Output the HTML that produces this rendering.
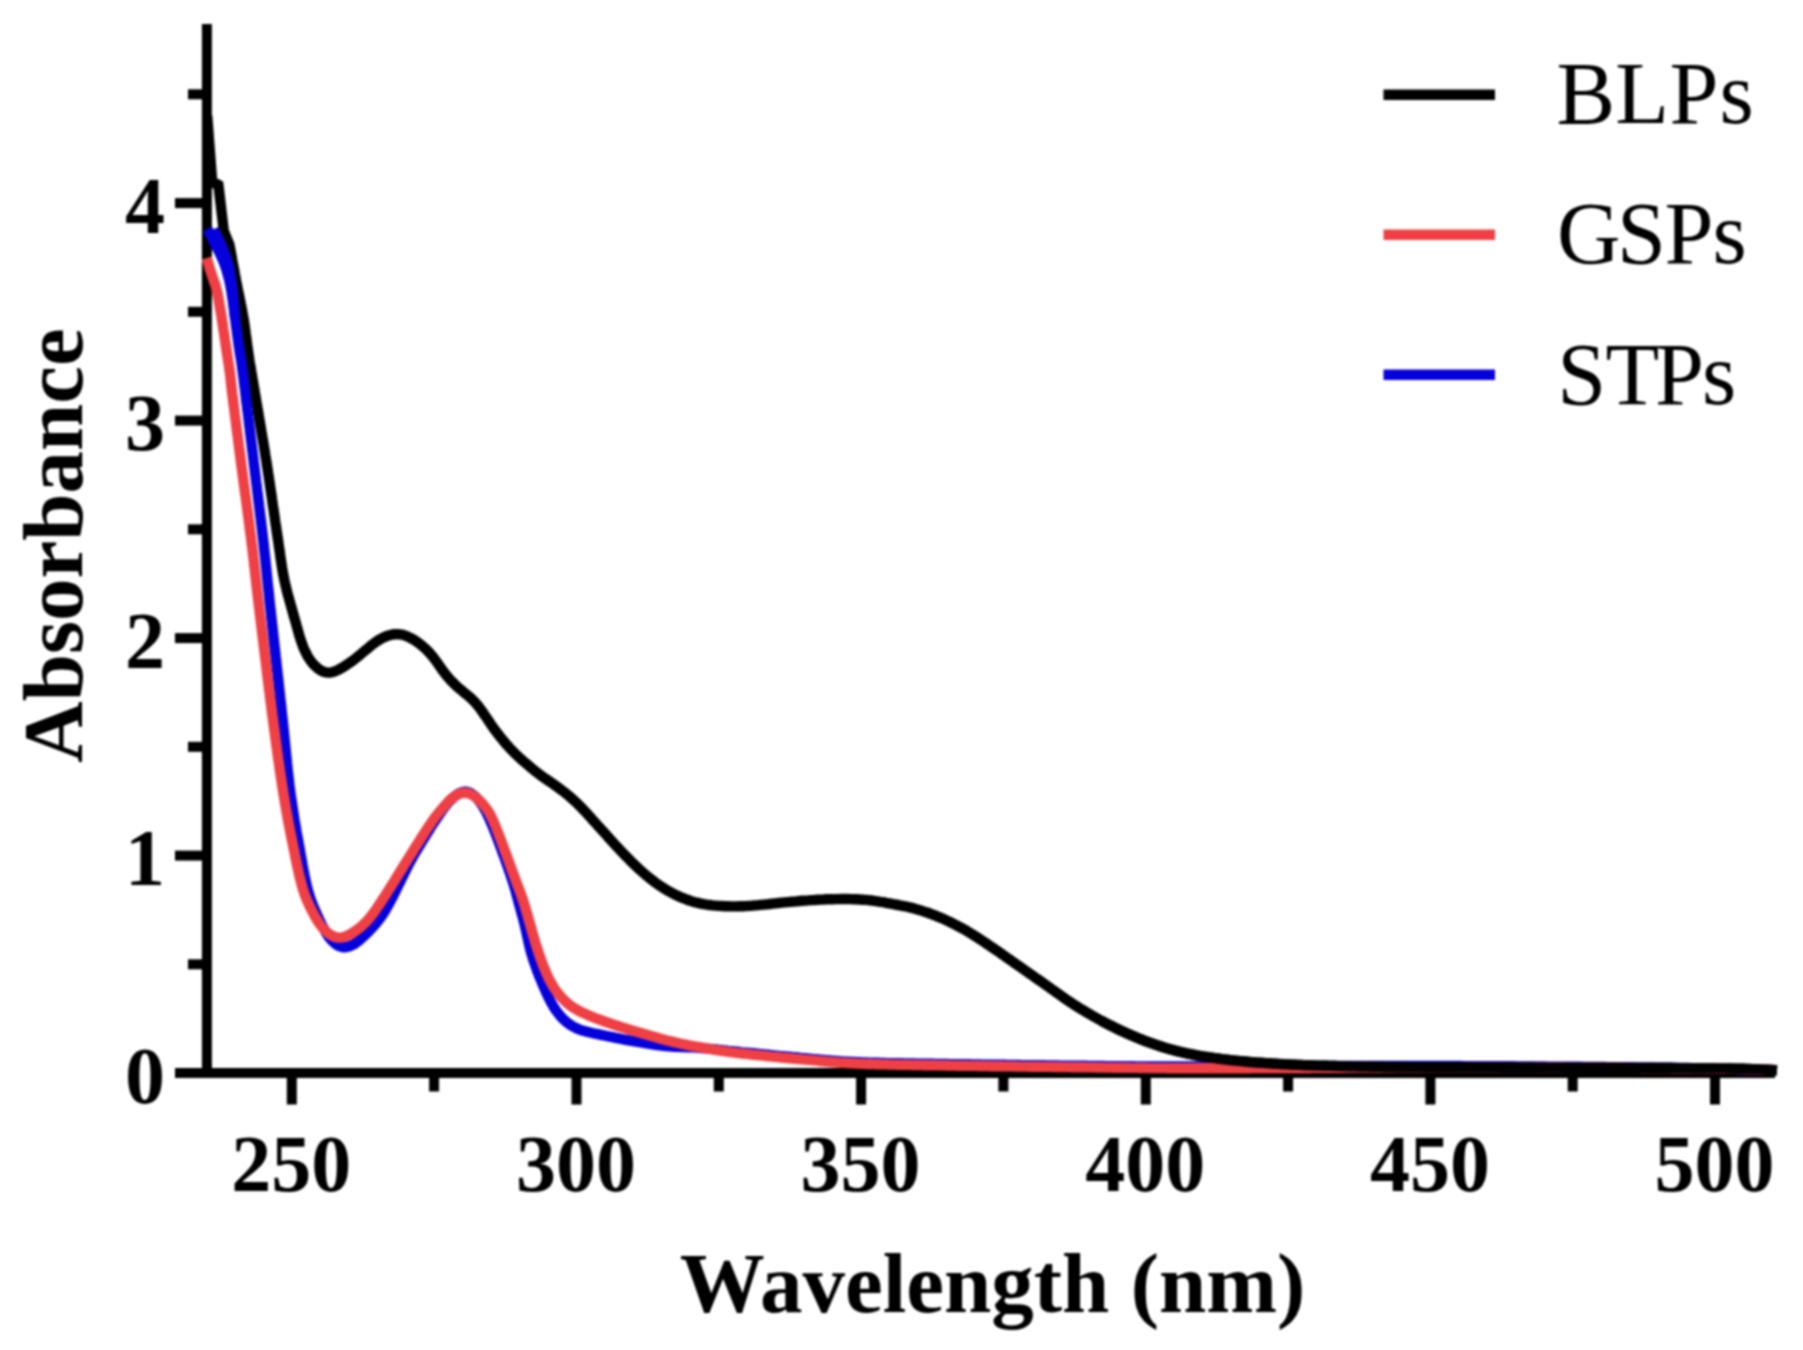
<!DOCTYPE html>
<html lang="en">
<head>
<meta charset="utf-8">
<title>UV-Vis absorbance spectra</title>
<style>
html,body{margin:0;padding:0;background:#fff;}
body{width:1803px;height:1350px;overflow:hidden;}
svg{display:block;}
#chart{width:1803px;height:1350px;filter:blur(1px);}
</style>
</head>
<body>
<div id="chart">
<svg width="1803" height="1350" viewBox="0 0 1803 1350">
<rect width="1803" height="1350" fill="#ffffff"/>
<g stroke="#000" stroke-width="10.0" fill="none" stroke-linecap="butt">
<line x1="206.9" y1="24" x2="206.9" y2="1078.1"/>
<line x1="175" y1="1073.1" x2="1775" y2="1073.1"/>
<line x1="291.8" y1="1073.1" x2="291.8" y2="1104.5"/>
<line x1="576.5" y1="1073.1" x2="576.5" y2="1104.5"/>
<line x1="861.1" y1="1073.1" x2="861.1" y2="1104.5"/>
<line x1="1145.8" y1="1073.1" x2="1145.8" y2="1104.5"/>
<line x1="1430.4" y1="1073.1" x2="1430.4" y2="1104.5"/>
<line x1="1715.0" y1="1073.1" x2="1715.0" y2="1104.5"/>
<line x1="434.1" y1="1073.1" x2="434.1" y2="1091.5"/>
<line x1="718.8" y1="1073.1" x2="718.8" y2="1091.5"/>
<line x1="1003.4" y1="1073.1" x2="1003.4" y2="1091.5"/>
<line x1="1288.1" y1="1073.1" x2="1288.1" y2="1091.5"/>
<line x1="1572.7" y1="1073.1" x2="1572.7" y2="1091.5"/>
<line x1="175" y1="855.6" x2="206.4" y2="855.6"/>
<line x1="175" y1="638.1" x2="206.4" y2="638.1"/>
<line x1="175" y1="420.6" x2="206.4" y2="420.6"/>
<line x1="175" y1="203.1" x2="206.4" y2="203.1"/>
<line x1="188" y1="964.3" x2="206.4" y2="964.3"/>
<line x1="188" y1="746.8" x2="206.4" y2="746.8"/>
<line x1="188" y1="529.3" x2="206.4" y2="529.3"/>
<line x1="188" y1="311.8" x2="206.4" y2="311.8"/>
<line x1="188" y1="94.3" x2="206.4" y2="94.3"/>
</g>
<g fill="none" stroke-width="10.4" stroke-linejoin="bevel" stroke-linecap="butt">
<path stroke="#000" d="M207.2 116.0L212.4 184.5L218.1 182.3L223.8 231.0L229.5 245.0L229.5 245.0L230.0 248.0L230.6 250.9L231.1 253.9L231.7 256.8L232.2 259.8L232.7 262.7L233.3 265.7L233.8 268.6L234.4 271.6L234.9 274.5L235.5 277.5L236.0 280.4L236.6 283.4L237.2 286.3L237.8 289.3L238.4 292.2L239.0 295.1L239.6 298.1L240.2 301.0L240.8 304.0L241.4 306.9L241.9 309.8L242.5 312.8L243.0 315.8L243.6 318.7L244.0 321.7L244.5 324.6L244.9 327.6L245.3 330.6L245.7 333.6L246.1 336.5L246.5 339.5L246.9 342.5L247.3 345.5L247.7 348.4L248.1 351.4L248.5 354.4L249.0 357.3L249.4 360.3L249.9 363.3L250.4 366.2L250.9 369.2L251.4 372.2L251.9 375.1L252.4 378.1L252.9 381.0L253.4 384.0L253.9 387.0L254.4 389.9L254.9 392.9L255.4 395.8L255.9 398.8L256.4 401.8L256.9 404.7L257.4 407.7L257.9 410.6L258.4 413.6L258.9 416.6L259.4 419.5L259.9 422.5L260.4 425.4L260.9 428.4L261.4 431.4L261.9 434.3L262.4 437.3L262.9 440.2L263.4 443.2L263.9 446.2L264.4 449.1L264.9 452.1L265.3 455.0L265.8 458.0L266.3 461.0L266.7 463.9L267.2 466.9L267.7 469.9L268.1 472.8L268.6 475.8L269.0 478.8L269.5 481.7L269.9 484.7L270.3 487.7L270.8 490.6L271.2 493.6L271.7 496.6L272.1 499.6L272.5 502.5L272.9 505.5L273.4 508.5L273.8 511.4L274.2 514.4L274.7 517.4L275.1 520.4L275.5 523.3L276.0 526.3L276.4 529.3L276.8 532.2L277.3 535.2L277.7 538.2L278.2 541.1L278.6 544.1L279.0 547.1L279.5 550.1L279.9 553.0L280.3 556.0L280.7 559.0L281.2 561.9L281.6 564.9L282.1 567.9L282.6 570.8L283.1 573.8L283.7 576.7L284.3 579.7L284.9 582.6L285.6 585.5L286.3 588.4L287.0 591.3L287.8 594.3L288.6 597.2L289.4 600.1L290.2 602.9L291.0 605.8L291.8 608.7L292.6 611.6L293.4 614.5L294.2 617.4L295.1 620.3L295.9 623.2L296.7 626.1L297.5 628.9L298.3 631.8L299.1 634.7L300.0 637.6L300.9 640.4L301.9 643.3L302.9 646.1L304.0 648.9L305.3 651.6L306.6 654.3L308.0 656.9L309.7 659.4L311.4 661.8L313.3 664.1L315.4 666.2L317.6 668.2L319.9 669.9L322.4 671.3L325.1 672.2L327.8 672.6L330.6 672.5L333.3 671.9L336.1 670.9L338.7 669.6L341.3 668.2L343.9 666.6L346.4 665.0L348.9 663.3L351.4 661.6L353.8 659.8L356.1 658.0L358.5 656.1L360.8 654.2L363.1 652.2L365.4 650.3L367.7 648.4L370.0 646.5L372.3 644.6L374.7 642.8L377.2 641.1L379.7 639.5L382.3 638.1L385.0 636.8L387.8 635.7L390.6 634.9L393.5 634.3L396.4 634.1L399.3 634.3L402.2 634.7L405.0 635.5L407.7 636.6L410.4 637.9L413.0 639.3L415.6 640.9L418.0 642.6L420.4 644.4L422.7 646.3L425.0 648.3L427.1 650.4L429.2 652.5L431.2 654.8L433.1 657.1L434.9 659.5L436.7 661.9L438.4 664.3L440.1 666.8L441.8 669.2L443.6 671.7L445.4 674.0L447.3 676.4L449.3 678.7L451.3 680.9L453.4 683.0L455.5 685.1L457.7 687.1L460.0 689.1L462.3 691.0L464.6 692.9L466.9 694.8L469.2 696.7L471.4 698.7L473.6 700.8L475.6 703.0L477.6 705.3L479.4 707.6L481.2 710.0L482.9 712.5L484.6 715.0L486.3 717.4L488.0 719.9L489.6 722.4L491.3 724.9L493.0 727.4L494.8 729.8L496.6 732.2L498.4 734.6L500.3 737.0L502.2 739.3L504.1 741.6L506.0 743.9L508.0 746.1L510.0 748.4L512.1 750.5L514.2 752.7L516.3 754.7L518.5 756.8L520.8 758.8L523.0 760.8L525.3 762.8L527.6 764.7L529.8 766.7L532.1 768.6L534.5 770.5L536.8 772.4L539.2 774.2L541.6 776.0L544.0 777.7L546.5 779.4L549.0 781.1L551.5 782.8L553.9 784.5L556.4 786.3L558.8 788.0L561.2 789.8L563.6 791.6L565.9 793.5L568.3 795.4L570.6 797.3L572.8 799.3L575.0 801.3L577.2 803.4L579.3 805.5L581.4 807.6L583.5 809.8L585.6 812.0L587.6 814.2L589.6 816.4L591.6 818.7L593.6 820.9L595.6 823.1L597.6 825.4L599.6 827.6L601.6 829.8L603.7 832.1L605.7 834.3L607.7 836.5L609.7 838.8L611.7 841.0L613.7 843.2L615.7 845.4L617.8 847.6L619.8 849.8L621.9 852.0L624.0 854.1L626.1 856.3L628.2 858.4L630.3 860.6L632.4 862.7L634.6 864.8L636.7 866.9L638.9 868.9L641.1 870.9L643.4 872.9L645.7 874.9L648.0 876.8L650.3 878.7L652.7 880.5L655.1 882.3L657.5 884.1L660.0 885.8L662.5 887.4L665.0 889.0L667.6 890.6L670.2 892.0L672.8 893.4L675.5 894.8L678.2 896.1L681.0 897.3L683.8 898.4L686.6 899.5L689.4 900.5L692.2 901.4L695.1 902.2L698.0 902.9L700.9 903.6L703.9 904.2L706.8 904.6L709.8 905.0L712.8 905.4L715.8 905.6L718.8 905.9L721.8 906.0L724.8 906.2L727.8 906.3L730.8 906.4L733.8 906.4L736.8 906.4L739.8 906.3L742.8 906.2L745.8 906.1L748.8 905.9L751.8 905.7L754.7 905.4L757.7 905.2L760.7 904.9L763.7 904.6L766.7 904.3L769.7 904.0L772.7 903.6L775.6 903.3L778.6 903.0L781.6 902.7L784.6 902.4L787.6 902.1L790.6 901.8L793.6 901.6L796.6 901.3L799.6 901.0L802.5 900.8L805.5 900.6L808.5 900.4L811.5 900.1L814.5 900.0L817.5 899.8L820.5 899.6L823.5 899.5L826.5 899.3L829.5 899.2L832.5 899.2L835.5 899.1L838.5 899.1L841.5 899.0L844.5 899.0L847.5 899.0L850.5 899.1L853.5 899.2L856.5 899.3L859.5 899.5L862.5 899.7L865.5 899.9L868.5 900.2L871.5 900.5L874.4 900.9L877.4 901.3L880.4 901.8L883.3 902.2L886.3 902.8L889.2 903.3L892.2 903.9L895.1 904.5L898.1 905.0L901.0 905.6L904.0 906.2L906.9 906.7L909.8 907.4L912.8 908.1L915.6 908.9L918.5 909.7L921.4 910.6L924.2 911.6L927.1 912.5L929.9 913.5L932.7 914.6L935.5 915.7L938.3 916.8L941.1 917.9L943.8 919.1L946.5 920.4L949.3 921.7L951.9 923.0L954.6 924.4L957.3 925.7L959.9 927.2L962.6 928.6L965.2 930.1L967.8 931.6L970.3 933.1L972.9 934.7L975.4 936.3L978.0 937.9L980.5 939.6L983.0 941.2L985.5 942.9L988.0 944.6L990.4 946.3L992.9 947.9L995.4 949.6L997.9 951.3L1000.4 953.0L1002.8 954.8L1005.3 956.5L1007.7 958.2L1010.2 959.9L1012.6 961.7L1015.1 963.4L1017.5 965.1L1020.0 966.8L1022.5 968.6L1024.9 970.3L1027.4 972.0L1029.8 973.7L1032.3 975.4L1034.8 977.2L1037.2 978.9L1039.7 980.6L1042.1 982.3L1044.6 984.1L1047.0 985.8L1049.5 987.5L1051.9 989.3L1054.4 991.0L1056.8 992.8L1059.3 994.5L1061.7 996.2L1064.2 998.0L1066.6 999.7L1069.1 1001.4L1071.6 1003.0L1074.1 1004.7L1076.7 1006.3L1079.2 1007.9L1081.8 1009.4L1084.3 1011.0L1086.9 1012.5L1089.5 1014.1L1092.1 1015.6L1094.7 1017.0L1097.3 1018.5L1100.0 1020.0L1102.6 1021.4L1105.2 1022.8L1107.9 1024.2L1110.6 1025.5L1113.3 1026.9L1115.9 1028.2L1118.6 1029.5L1121.4 1030.8L1124.1 1032.1L1126.8 1033.3L1129.6 1034.5L1132.3 1035.7L1135.1 1036.9L1137.9 1038.0L1140.6 1039.2L1143.4 1040.3L1146.2 1041.3L1149.0 1042.4L1151.9 1043.4L1154.7 1044.4L1157.5 1045.3L1160.4 1046.3L1163.3 1047.2L1166.1 1048.1L1169.0 1048.9L1171.9 1049.7L1174.8 1050.5L1177.7 1051.3L1180.6 1052.0L1183.5 1052.6L1186.5 1053.3L1189.4 1053.9L1192.3 1054.5L1195.3 1055.0L1198.3 1055.6L1201.2 1056.1L1204.2 1056.6L1207.1 1057.0L1210.1 1057.5L1213.1 1057.9L1216.0 1058.3L1219.0 1058.7L1222.0 1059.1L1225.0 1059.5L1228.0 1059.8L1230.9 1060.1L1233.9 1060.5L1236.9 1060.8L1239.9 1061.1L1242.9 1061.3L1245.9 1061.6L1248.9 1061.9L1251.9 1062.1L1254.9 1062.4L1257.8 1062.6L1260.8 1062.8L1263.8 1063.0L1266.8 1063.2L1269.8 1063.4L1272.8 1063.6L1275.8 1063.8L1278.8 1064.0L1281.8 1064.1L1284.8 1064.3L1287.8 1064.4L1290.8 1064.6L1293.8 1064.7L1296.8 1064.9L1299.8 1065.0L1302.8 1065.1L1305.8 1065.2L1308.8 1065.3L1311.8 1065.4L1314.8 1065.5L1317.8 1065.6L1320.8 1065.7L1323.8 1065.8L1326.8 1065.8L1329.8 1065.9L1332.8 1066.0L1335.8 1066.0L1338.8 1066.1L1341.8 1066.2L1344.8 1066.2L1347.8 1066.3L1350.8 1066.3L1353.8 1066.4L1356.8 1066.4L1359.8 1066.5L1362.8 1066.5L1365.8 1066.6L1368.8 1066.6L1371.8 1066.7L1374.8 1066.7L1377.8 1066.8L1380.8 1066.8L1383.8 1066.8L1386.8 1066.9L1389.8 1066.9L1392.8 1066.9L1395.8 1067.0L1398.8 1067.0L1401.8 1067.0L1404.8 1067.0L1407.8 1067.1L1410.8 1067.1L1413.8 1067.1L1416.8 1067.1L1419.8 1067.1L1422.8 1067.2L1425.8 1067.2L1428.8 1067.2L1431.8 1067.2L1434.9 1067.2L1437.9 1067.2L1440.9 1067.3L1443.9 1067.3L1446.9 1067.3L1449.9 1067.3L1452.9 1067.3L1455.9 1067.3L1458.9 1067.3L1461.9 1067.3L1464.9 1067.3L1467.9 1067.4L1470.9 1067.4L1473.9 1067.4L1476.9 1067.4L1479.9 1067.4L1482.9 1067.4L1485.9 1067.4L1488.9 1067.4L1491.9 1067.4L1494.9 1067.4L1497.9 1067.4L1500.9 1067.4L1503.9 1067.5L1506.9 1067.5L1509.9 1067.5L1512.9 1067.5L1515.9 1067.5L1518.9 1067.5L1521.9 1067.5L1524.9 1067.5L1527.9 1067.5L1530.9 1067.5L1533.9 1067.5L1536.9 1067.6L1539.9 1067.6L1542.9 1067.6L1545.9 1067.6L1548.9 1067.6L1551.9 1067.6L1554.9 1067.6L1557.9 1067.6L1560.9 1067.6L1563.9 1067.6L1566.9 1067.7L1569.9 1067.7L1572.9 1067.7L1575.9 1067.7L1578.9 1067.7L1581.9 1067.7L1584.9 1067.7L1587.9 1067.7L1590.9 1067.7L1593.9 1067.8L1596.9 1067.8L1599.9 1067.8L1602.9 1067.8L1605.9 1067.8L1608.9 1067.8L1611.9 1067.8L1615.0 1067.8L1618.0 1067.8L1621.0 1067.8L1624.0 1067.9L1627.0 1067.9L1630.0 1067.9L1633.0 1067.9L1636.0 1067.9L1639.0 1067.9L1642.0 1067.9L1645.0 1067.9L1648.0 1067.9L1651.0 1068.0L1654.0 1068.0L1657.0 1068.0L1660.0 1068.0L1663.0 1068.0L1666.0 1068.0L1669.0 1068.0L1672.0 1068.0L1675.0 1068.1L1678.0 1068.1L1681.0 1068.1L1684.0 1068.1L1687.0 1068.1L1690.0 1068.1L1693.0 1068.2L1696.0 1068.2L1699.0 1068.2L1702.0 1068.2L1705.0 1068.2L1708.0 1068.3L1711.0 1068.3L1714.0 1068.3L1717.0 1068.3L1720.0 1068.4L1723.0 1068.4L1726.0 1068.5L1729.0 1068.5L1732.0 1068.6L1735.0 1068.6L1738.0 1068.7L1741.0 1068.8L1744.0 1068.8L1747.0 1068.9L1750.0 1069.0L1753.0 1069.1L1756.0 1069.2L1759.0 1069.4L1762.0 1069.5L1765.0 1069.6L1768.0 1069.8L1771.0 1070.0L1774.0 1070.1L1777.0 1070.3"/>
<path stroke="#0600dc" d="M213.5 229.5L214.9 232.1L216.3 234.8L217.7 237.5L219.0 240.2L220.3 242.9L221.5 245.6L222.6 248.4L223.7 251.2L224.8 254.0L225.8 256.8L226.8 259.7L227.7 262.5L228.5 265.4L229.2 268.3L229.8 271.3L230.3 274.2L230.8 277.2L231.2 280.2L231.6 283.1L232.0 286.1L232.4 289.1L232.7 292.1L233.0 295.1L233.3 298.1L233.5 301.1L233.8 304.0L234.1 307.0L234.3 310.0L234.6 313.0L234.9 316.0L235.0 317.5"/>
<path stroke="#0600dc" d="M207.5 229.0L208.9 231.7L210.3 234.3L211.6 237.0L213.0 239.7L214.3 242.4L215.7 245.0L217.0 247.7L218.4 250.4L219.7 253.1L221.0 255.8L222.2 258.5L223.4 261.3L224.5 264.1L225.5 266.9L226.4 269.8L227.2 272.6L228.0 275.5L228.8 278.4L229.5 281.4L230.1 284.3L230.7 287.2L231.2 290.2L231.7 293.1L232.1 296.1L232.6 299.1L233.0 302.1L233.4 305.0L233.8 308.0L234.2 311.0L234.5 314.0L234.9 316.9L235.3 319.9L235.7 322.9L236.1 325.9L236.5 328.8L236.9 331.8L237.3 334.8L237.7 337.8L238.1 340.7L238.5 343.7L238.9 346.7L239.4 349.6L239.8 352.6L240.3 355.6L240.8 358.5L241.3 361.5L241.7 364.5L242.1 367.4L242.5 370.4L242.9 373.4L243.3 376.4L243.7 379.3L244.0 382.3L244.4 385.3L244.8 388.3L245.2 391.3L245.5 394.2L245.9 397.2L246.2 400.2L246.6 403.2L247.0 406.1L247.3 409.1L247.7 412.1L248.1 415.1L248.4 418.1L248.8 421.0L249.1 424.0L249.5 427.0L249.9 430.0L250.2 433.0L250.6 435.9L250.9 438.9L251.3 441.9L251.7 444.9L252.0 447.9L252.4 450.8L252.8 453.8L253.1 456.8L253.5 459.8L253.8 462.8L254.2 465.7L254.6 468.7L254.9 471.7L255.3 474.7L255.7 477.7L256.0 480.6L256.4 483.6L256.8 486.6L257.1 489.6L257.5 492.5L257.9 495.5L258.2 498.5L258.6 501.5L259.0 504.5L259.3 507.4L259.7 510.4L260.0 513.4L260.4 516.4L260.8 519.4L261.1 522.3L261.5 525.3L261.8 528.3L262.2 531.3L262.5 534.3L262.9 537.2L263.2 540.2L263.6 543.2L263.9 546.2L264.2 549.2L264.5 552.2L264.9 555.1L265.2 558.1L265.5 561.1L265.8 564.1L266.1 567.1L266.4 570.1L266.7 573.1L267.0 576.0L267.3 579.0L267.6 582.0L267.9 585.0L268.2 588.0L268.6 591.0L268.9 594.0L269.2 596.9L269.5 599.9L269.8 602.9L270.1 605.9L270.5 608.9L270.8 611.9L271.1 614.8L271.4 617.8L271.8 620.8L272.1 623.8L272.4 626.8L272.8 629.8L273.1 632.7L273.4 635.7L273.7 638.7L274.1 641.7L274.4 644.7L274.7 647.7L275.1 650.6L275.4 653.6L275.7 656.6L276.1 659.6L276.4 662.6L276.7 665.6L277.0 668.5L277.4 671.5L277.7 674.5L278.0 677.5L278.4 680.5L278.7 683.5L279.0 686.4L279.3 689.4L279.7 692.4L280.0 695.4L280.3 698.4L280.6 701.4L281.0 704.3L281.3 707.3L281.6 710.3L281.9 713.3L282.2 716.3L282.6 719.3L282.9 722.2L283.2 725.2L283.5 728.2L283.8 731.2L284.1 734.2L284.4 737.2L284.7 740.2L285.0 743.1L285.3 746.1L285.6 749.1L285.9 752.1L286.2 755.1L286.5 758.1L286.8 761.1L287.1 764.1L287.4 767.0L287.7 770.0L288.0 773.0L288.4 776.0L288.7 779.0L289.1 782.0L289.4 784.9L289.8 787.9L290.2 790.9L290.6 793.9L291.0 796.8L291.5 799.8L291.9 802.8L292.3 805.7L292.8 808.7L293.2 811.7L293.7 814.6L294.1 817.6L294.6 820.6L295.1 823.5L295.6 826.5L296.1 829.4L296.6 832.4L297.2 835.4L297.7 838.3L298.3 841.3L298.8 844.2L299.4 847.2L299.9 850.1L300.4 853.1L300.9 856.0L301.5 859.0L302.0 861.9L302.5 864.9L303.0 867.8L303.6 870.8L304.2 873.7L304.8 876.7L305.4 879.6L306.0 882.5L306.7 885.5L307.4 888.4L308.2 891.3L309.0 894.2L309.9 897.0L310.9 899.9L311.9 902.7L313.0 905.5L314.2 908.2L315.4 911.0L316.6 913.7L317.8 916.5L319.1 919.2L320.4 921.9L321.7 924.6L323.1 927.2L324.5 929.9L325.9 932.5L327.5 935.0L329.2 937.5L331.1 939.8L333.2 941.9L335.4 943.8L337.8 945.4L340.3 946.5L343.0 947.2L345.7 947.2L348.5 946.7L351.1 945.7L353.7 944.4L356.2 942.7L358.5 940.9L360.8 939.0L363.0 937.0L365.2 934.9L367.3 932.8L369.4 930.7L371.5 928.5L373.5 926.3L375.5 924.0L377.4 921.7L379.2 919.4L381.0 916.9L382.7 914.5L384.3 911.9L385.9 909.4L387.3 906.8L388.8 904.1L390.2 901.5L391.6 898.8L393.0 896.2L394.3 893.5L395.7 890.8L397.0 888.1L398.3 885.4L399.7 882.7L401.0 880.0L402.3 877.3L403.6 874.7L404.9 872.0L406.3 869.3L407.6 866.6L409.0 863.9L410.4 861.3L411.9 858.6L413.3 856.0L414.8 853.4L416.4 850.9L417.9 848.3L419.5 845.7L421.0 843.2L422.6 840.6L424.2 838.0L425.8 835.5L427.3 832.9L428.9 830.4L430.5 827.8L432.1 825.3L433.7 822.8L435.4 820.3L437.1 817.8L438.8 815.3L440.5 812.9L442.2 810.4L444.0 808.0L445.8 805.6L447.7 803.3L449.7 801.1L451.8 798.9L454.0 796.9L456.3 795.1L458.7 793.5L461.2 792.4L463.8 791.7L466.5 791.8L469.1 792.5L471.5 793.7L473.8 795.4L476.0 797.3L478.0 799.5L479.8 801.9L481.6 804.3L483.2 806.8L484.7 809.4L486.2 812.0L487.5 814.7L488.8 817.4L490.0 820.1L491.2 822.9L492.4 825.7L493.5 828.4L494.6 831.2L495.7 834.0L496.8 836.8L497.8 839.6L498.9 842.4L499.9 845.2L501.0 848.1L502.0 850.9L503.0 853.7L504.1 856.5L505.1 859.3L506.1 862.2L507.1 865.0L508.1 867.8L509.1 870.7L510.1 873.5L511.0 876.3L512.0 879.2L512.9 882.0L513.8 884.9L514.7 887.8L515.5 890.7L516.3 893.6L517.1 896.5L517.9 899.4L518.6 902.3L519.4 905.1L520.2 908.0L521.0 910.9L521.8 913.8L522.6 916.7L523.4 919.6L524.1 922.5L524.8 925.4L525.5 928.4L526.2 931.3L526.8 934.2L527.5 937.2L528.1 940.1L528.7 943.0L529.4 945.9L530.1 948.9L530.9 951.8L531.7 954.6L532.6 957.5L533.5 960.4L534.5 963.2L535.5 966.0L536.5 968.9L537.5 971.7L538.6 974.5L539.7 977.3L540.9 980.0L542.0 982.8L543.2 985.6L544.4 988.3L545.6 991.1L546.8 993.8L548.1 996.5L549.4 999.2L550.8 1001.9L552.3 1004.5L553.8 1007.1L555.4 1009.6L557.2 1012.0L559.0 1014.4L560.9 1016.6L563.0 1018.8L565.2 1020.8L567.4 1022.8L569.8 1024.5L572.3 1026.1L575.0 1027.5L577.7 1028.8L580.4 1029.8L583.3 1030.8L586.2 1031.6L589.1 1032.3L592.0 1033.0L594.9 1033.6L597.9 1034.2L600.8 1034.8L603.7 1035.4L606.7 1036.0L609.6 1036.6L612.6 1037.2L615.5 1037.8L618.5 1038.4L621.4 1039.0L624.3 1039.6L627.3 1040.1L630.2 1040.7L633.2 1041.2L636.1 1041.7L639.1 1042.2L642.1 1042.6L645.0 1043.1L648.0 1043.6L651.0 1044.1L653.9 1044.6L656.9 1045.0L659.9 1045.4L662.8 1045.8L665.8 1046.0L668.8 1046.3L671.8 1046.5L674.8 1046.7L677.8 1046.8L680.8 1047.0L683.8 1047.1L686.8 1047.2L689.8 1047.3L692.8 1047.4L695.8 1047.6L698.8 1047.8L701.8 1048.0L704.8 1048.3L707.7 1048.6L710.7 1048.9L713.7 1049.2L716.7 1049.5L719.7 1049.8L722.7 1050.2L725.7 1050.5L728.6 1050.8L731.6 1051.1L734.6 1051.4L737.6 1051.7L740.6 1052.1L743.6 1052.4L746.5 1052.6L749.5 1052.9L752.5 1053.2L755.5 1053.5L758.5 1053.8L761.5 1054.1L764.5 1054.4L767.5 1054.7L770.4 1055.0L773.4 1055.3L776.4 1055.6L779.4 1055.9L782.4 1056.1L785.4 1056.4L788.4 1056.7L791.4 1057.0L794.3 1057.3L797.3 1057.5L800.3 1057.8L803.3 1058.1L806.3 1058.3L809.3 1058.6L812.3 1058.9L815.3 1059.1L818.3 1059.4L821.2 1059.7L824.2 1060.0L827.2 1060.3L830.2 1060.5L833.2 1060.8L836.2 1061.0L839.2 1061.2L842.2 1061.4L845.2 1061.6L848.2 1061.7L851.2 1061.9L854.2 1062.0L857.2 1062.2L860.2 1062.3L863.2 1062.4L866.2 1062.5L869.2 1062.6L872.2 1062.7L875.2 1062.8L878.2 1062.8L881.2 1062.9L884.2 1063.0L887.2 1063.1L890.2 1063.1L893.2 1063.2L896.2 1063.2L899.2 1063.3L902.2 1063.3L905.2 1063.4L908.2 1063.4L911.2 1063.5L914.2 1063.5L917.2 1063.6L920.2 1063.6L923.2 1063.7L926.2 1063.7L929.2 1063.8L932.2 1063.8L935.2 1063.9L938.2 1063.9L941.2 1063.9L944.2 1064.0L947.2 1064.0L950.2 1064.1L953.2 1064.1L956.2 1064.2L959.2 1064.2L962.2 1064.2L965.2 1064.3L968.2 1064.3L971.2 1064.4L974.2 1064.4L977.2 1064.5L980.2 1064.5L983.2 1064.6L986.2 1064.6L989.2 1064.6L992.2 1064.7L995.2 1064.7L998.2 1064.8L1001.2 1064.8L1004.2 1064.8L1007.2 1064.9L1010.2 1064.9L1013.2 1065.0L1016.2 1065.0L1019.2 1065.0L1022.2 1065.1L1025.2 1065.1L1028.2 1065.2L1031.2 1065.2L1034.2 1065.2L1037.2 1065.3L1040.2 1065.3L1043.2 1065.3L1046.2 1065.4L1049.2 1065.4L1052.2 1065.5L1055.2 1065.5L1058.2 1065.5L1061.2 1065.6L1064.2 1065.6L1067.2 1065.6L1070.2 1065.7L1073.2 1065.7L1076.2 1065.7L1079.2 1065.8L1082.2 1065.8L1085.2 1065.8L1088.2 1065.9L1091.2 1065.9L1094.2 1065.9L1097.2 1066.0L1100.2 1066.0L1103.2 1066.0L1106.2 1066.1L1109.2 1066.1L1112.2 1066.1L1115.2 1066.2L1118.3 1066.2L1121.3 1066.2L1124.3 1066.2L1127.3 1066.3L1130.3 1066.3L1133.3 1066.3L1136.3 1066.4L1139.3 1066.4L1142.3 1066.4L1145.3 1066.4L1148.3 1066.4L1151.3 1066.4L1154.3 1066.5L1157.3 1066.5L1160.3 1066.5L1163.3 1066.5L1166.3 1066.5L1169.3 1066.5L1172.3 1066.5L1175.3 1066.5L1178.3 1066.5L1181.3 1066.5L1184.3 1066.5L1187.3 1066.5L1190.3 1066.5L1193.3 1066.5L1196.3 1066.5L1199.3 1066.5L1202.3 1066.4L1205.3 1066.4L1208.3 1066.4L1211.3 1066.4L1214.3 1066.4L1217.3 1066.4L1220.3 1066.4L1223.3 1066.3L1226.3 1066.3L1229.3 1066.3L1232.3 1066.3L1235.3 1066.3L1238.3 1066.3L1241.3 1066.2L1244.3 1066.2L1247.3 1066.2L1250.3 1066.2L1253.3 1066.2L1256.3 1066.2L1259.3 1066.2L1262.3 1066.1L1265.3 1066.1L1268.3 1066.1L1271.3 1066.1L1274.3 1066.1L1277.3 1066.1L1280.3 1066.1L1283.3 1066.0L1286.3 1066.0L1289.3 1066.0L1292.3 1066.0L1295.3 1066.0L1298.3 1066.0L1301.3 1066.0L1304.3 1066.0L1307.3 1066.0L1310.3 1066.0L1313.3 1066.0L1316.3 1066.0L1319.3 1066.0L1322.3 1066.0L1325.3 1066.0L1328.3 1066.0L1331.3 1065.9L1334.3 1065.9L1337.3 1065.9L1340.3 1065.9L1343.3 1065.9L1346.3 1065.9L1349.3 1065.9L1352.4 1065.9L1355.4 1065.9L1358.4 1065.9L1361.4 1065.9L1364.4 1065.9L1367.4 1065.9L1370.4 1065.9L1373.4 1065.9L1376.4 1065.9L1379.4 1065.9L1382.4 1065.9L1385.4 1065.9L1388.4 1065.9L1391.4 1065.9L1394.4 1065.9L1397.4 1065.9L1400.4 1065.9L1403.4 1065.9L1406.4 1065.9L1409.4 1065.9L1412.4 1065.9L1415.4 1065.9L1418.4 1065.9L1421.4 1065.9L1424.4 1065.9L1427.4 1065.9L1430.4 1065.9L1433.4 1066.0L1436.4 1066.0L1439.4 1066.0L1442.4 1066.0L1445.4 1066.0L1448.4 1066.0L1451.4 1066.0L1454.4 1066.0L1457.4 1066.0L1460.4 1066.0L1463.4 1066.1L1466.4 1066.1L1469.4 1066.1L1472.4 1066.1L1475.4 1066.1L1478.4 1066.1L1481.4 1066.1L1484.4 1066.2L1487.4 1066.2L1490.4 1066.2L1493.4 1066.2L1496.4 1066.2L1499.4 1066.2L1502.4 1066.3L1505.4 1066.3L1508.4 1066.3L1511.4 1066.3L1514.4 1066.3L1517.4 1066.4L1520.4 1066.4L1523.4 1066.4L1526.4 1066.4L1529.4 1066.4L1532.4 1066.5L1535.4 1066.5L1538.4 1066.5L1541.4 1066.5L1544.4 1066.5L1547.4 1066.6L1550.4 1066.6L1553.4 1066.6L1556.4 1066.6L1559.4 1066.7L1562.4 1066.7L1565.4 1066.7L1568.4 1066.7L1571.4 1066.8L1574.4 1066.8L1577.4 1066.8L1580.4 1066.8L1583.4 1066.9L1586.4 1066.9L1589.4 1066.9L1592.5 1066.9L1595.5 1067.0L1598.5 1067.0L1601.5 1067.0L1604.5 1067.0L1607.5 1067.1L1610.5 1067.1L1613.5 1067.1L1616.5 1067.2L1619.5 1067.2L1622.5 1067.2L1625.5 1067.2L1628.5 1067.3L1631.5 1067.3L1634.5 1067.3L1637.5 1067.4L1640.5 1067.4L1643.5 1067.4L1646.5 1067.5L1649.5 1067.5L1652.5 1067.5L1655.5 1067.6L1658.5 1067.6L1661.5 1067.6L1664.5 1067.7L1667.5 1067.7L1670.5 1067.8L1673.5 1067.8L1676.5 1067.8L1679.5 1067.9L1682.5 1067.9L1685.5 1068.0L1688.5 1068.0L1691.5 1068.1L1694.5 1068.1L1697.5 1068.2L1700.5 1068.2L1703.5 1068.3L1706.5 1068.3L1709.5 1068.4L1712.5 1068.4L1715.5 1068.5L1718.5 1068.6L1721.5 1068.6L1724.5 1068.7L1727.5 1068.8L1730.5 1068.9L1733.5 1068.9L1736.5 1069.0L1739.5 1069.1L1742.5 1069.2L1745.5 1069.2L1748.5 1069.3L1751.5 1069.4L1754.5 1069.5L1757.5 1069.6L1760.5 1069.6L1763.5 1069.7L1766.5 1069.8L1769.5 1069.9L1772.5 1070.0L1774.0 1070.0"/>
<path stroke="#ee4045" d="M206.7 258.0L207.5 260.9L208.3 263.8L209.2 266.7L210.0 269.5L211.0 272.4L211.9 275.2L212.9 278.0L213.9 280.9L214.9 283.7L215.8 286.6L216.5 289.5L217.2 292.4L217.8 295.3L218.4 298.3L218.9 301.2L219.4 304.2L219.9 307.1L220.4 310.1L220.9 313.0L221.4 316.0L221.8 319.0L222.3 321.9L222.8 324.9L223.2 327.9L223.6 330.8L224.1 333.8L224.5 336.8L224.9 339.8L225.4 342.7L225.8 345.7L226.3 348.7L226.7 351.6L227.2 354.6L227.7 357.6L228.1 360.5L228.6 363.5L229.0 366.4L229.4 369.4L229.8 372.4L230.2 375.4L230.5 378.4L230.8 381.3L231.1 384.3L231.5 387.3L231.8 390.3L232.2 393.3L232.6 396.2L233.0 399.2L233.3 402.2L233.7 405.2L234.1 408.2L234.5 411.1L234.8 414.1L235.2 417.1L235.6 420.1L236.0 423.0L236.3 426.0L236.7 429.0L237.1 432.0L237.5 434.9L237.9 437.9L238.2 440.9L238.6 443.9L239.0 446.9L239.4 449.8L239.8 452.8L240.2 455.8L240.5 458.8L240.9 461.7L241.3 464.7L241.7 467.7L242.1 470.7L242.5 473.6L242.9 476.6L243.3 479.6L243.7 482.6L244.1 485.5L244.5 488.5L244.9 491.5L245.3 494.5L245.7 497.4L246.1 500.4L246.5 503.4L246.9 506.4L247.3 509.3L247.7 512.3L248.1 515.3L248.5 518.3L248.9 521.2L249.3 524.2L249.6 527.2L250.0 530.2L250.4 533.1L250.8 536.1L251.2 539.1L251.5 542.1L251.9 545.0L252.3 548.0L252.6 551.0L253.0 554.0L253.3 557.0L253.7 559.9L254.0 562.9L254.3 565.9L254.7 568.9L255.0 571.9L255.3 574.9L255.7 577.8L256.0 580.8L256.3 583.8L256.7 586.8L257.0 589.8L257.4 592.7L257.7 595.7L258.1 598.7L258.4 601.7L258.8 604.7L259.1 607.6L259.5 610.6L259.8 613.6L260.2 616.6L260.6 619.6L260.9 622.5L261.3 625.5L261.6 628.5L262.0 631.5L262.4 634.5L262.7 637.4L263.1 640.4L263.5 643.4L263.8 646.4L264.2 649.4L264.6 652.3L264.9 655.3L265.3 658.3L265.7 661.3L266.0 664.2L266.4 667.2L266.7 670.2L267.1 673.2L267.5 676.2L267.8 679.1L268.2 682.1L268.6 685.1L268.9 688.1L269.3 691.1L269.7 694.0L270.0 697.0L270.4 700.0L270.8 703.0L271.2 705.9L271.5 708.9L271.9 711.9L272.3 714.9L272.7 717.8L273.1 720.8L273.5 723.8L273.9 726.8L274.3 729.7L274.7 732.7L275.1 735.7L275.5 738.7L275.9 741.6L276.3 744.6L276.7 747.6L277.1 750.6L277.5 753.5L277.9 756.5L278.3 759.5L278.8 762.5L279.2 765.4L279.6 768.4L280.0 771.4L280.5 774.3L280.9 777.3L281.4 780.3L281.8 783.2L282.3 786.2L282.7 789.2L283.2 792.1L283.7 795.1L284.2 798.0L284.7 801.0L285.2 804.0L285.7 806.9L286.2 809.9L286.7 812.8L287.3 815.8L287.8 818.7L288.3 821.7L288.9 824.6L289.5 827.6L290.0 830.5L290.6 833.5L291.2 836.4L291.8 839.4L292.4 842.3L293.0 845.2L293.6 848.2L294.2 851.1L294.8 854.1L295.4 857.0L296.0 860.0L296.6 862.9L297.2 865.8L297.8 868.8L298.5 871.7L299.1 874.6L299.8 877.5L300.6 880.4L301.3 883.4L302.1 886.2L302.9 889.1L303.9 892.0L304.8 894.8L305.9 897.6L307.0 900.4L308.3 903.1L309.5 905.8L310.8 908.5L312.2 911.2L313.6 913.9L315.0 916.5L316.5 919.1L318.1 921.6L319.8 924.1L321.6 926.5L323.5 928.8L325.5 930.9L327.7 932.9L330.1 934.6L332.6 936.0L335.2 937.1L338.0 937.6L340.8 937.6L343.5 937.2L346.3 936.2L348.9 935.0L351.5 933.5L354.0 931.9L356.5 930.2L358.9 928.4L361.2 926.5L363.4 924.5L365.5 922.5L367.6 920.3L369.5 918.0L371.4 915.7L373.2 913.3L375.0 910.8L376.7 908.4L378.4 905.9L380.0 903.4L381.7 900.9L383.3 898.4L385.0 895.9L386.6 893.4L388.2 890.8L389.8 888.3L391.4 885.7L393.0 883.2L394.6 880.7L396.2 878.1L397.7 875.5L399.3 873.0L400.9 870.4L402.5 867.9L404.0 865.3L405.6 862.8L407.2 860.2L408.8 857.7L410.4 855.1L412.0 852.6L413.6 850.1L415.2 847.5L416.8 845.0L418.4 842.5L420.0 839.9L421.6 837.4L423.2 834.9L424.9 832.3L426.5 829.8L428.1 827.3L429.8 824.8L431.5 822.3L433.2 819.9L435.0 817.5L436.9 815.1L438.7 812.8L440.6 810.4L442.6 808.2L444.5 805.9L446.5 803.7L448.6 801.5L450.7 799.4L453.0 797.5L455.4 795.8L457.9 794.3L460.5 793.3L463.2 792.8L466.0 792.8L468.7 793.4L471.4 794.4L473.8 795.9L476.2 797.7L478.4 799.6L480.5 801.7L482.6 803.9L484.5 806.2L486.3 808.5L488.0 811.0L489.6 813.5L491.0 816.2L492.3 818.9L493.5 821.6L494.7 824.4L495.8 827.1L496.9 829.9L498.0 832.7L499.1 835.5L500.2 838.3L501.2 841.1L502.3 843.9L503.3 846.8L504.4 849.6L505.4 852.4L506.5 855.2L507.5 858.0L508.5 860.8L509.5 863.7L510.6 866.5L511.6 869.3L512.6 872.1L513.7 874.9L514.7 877.7L515.7 880.6L516.8 883.4L517.9 886.2L518.9 889.0L520.0 891.8L521.0 894.6L522.0 897.4L523.0 900.3L523.9 903.1L524.8 906.0L525.6 908.9L526.5 911.8L527.3 914.6L528.1 917.5L528.9 920.4L529.7 923.3L530.6 926.2L531.4 929.1L532.2 932.0L533.0 934.8L533.9 937.7L534.7 940.6L535.6 943.5L536.5 946.3L537.4 949.2L538.3 952.0L539.3 954.9L540.3 957.7L541.3 960.5L542.4 963.4L543.4 966.2L544.6 968.9L545.7 971.7L546.9 974.5L548.1 977.2L549.5 979.9L550.9 982.5L552.3 985.1L553.9 987.7L555.6 990.1L557.4 992.5L559.3 994.9L561.2 997.1L563.3 999.3L565.4 1001.4L567.6 1003.4L570.0 1005.3L572.4 1007.0L574.9 1008.6L577.5 1010.1L580.1 1011.5L582.8 1012.8L585.6 1014.0L588.3 1015.2L591.1 1016.4L593.9 1017.5L596.7 1018.6L599.5 1019.6L602.3 1020.6L605.1 1021.7L608.0 1022.6L610.8 1023.6L613.6 1024.6L616.5 1025.5L619.3 1026.5L622.2 1027.4L625.1 1028.3L627.9 1029.2L630.8 1030.0L633.7 1030.9L636.6 1031.8L639.4 1032.6L642.3 1033.4L645.2 1034.3L648.1 1035.1L651.0 1035.9L653.9 1036.8L656.7 1037.6L659.6 1038.4L662.5 1039.2L665.4 1040.0L668.3 1040.7L671.2 1041.4L674.1 1042.1L677.1 1042.8L680.0 1043.5L682.9 1044.1L685.9 1044.7L688.8 1045.3L691.8 1045.8L694.7 1046.4L697.7 1046.9L700.6 1047.4L703.6 1047.9L706.6 1048.4L709.5 1048.9L712.5 1049.4L715.4 1049.9L718.4 1050.3L721.4 1050.8L724.3 1051.2L727.3 1051.6L730.3 1052.1L733.3 1052.4L736.2 1052.8L739.2 1053.2L742.2 1053.5L745.2 1053.9L748.2 1054.2L751.1 1054.5L754.1 1054.8L757.1 1055.1L760.1 1055.4L763.1 1055.7L766.1 1056.0L769.1 1056.3L772.0 1056.6L775.0 1056.9L778.0 1057.2L781.0 1057.5L784.0 1057.7L787.0 1058.0L790.0 1058.3L793.0 1058.5L795.9 1058.8L798.9 1059.1L801.9 1059.3L804.9 1059.6L807.9 1059.9L810.9 1060.1L813.9 1060.4L816.9 1060.7L819.9 1061.0L822.8 1061.3L825.8 1061.5L828.8 1061.8L831.8 1062.0L834.8 1062.3L837.8 1062.5L840.8 1062.7L843.8 1062.9L846.8 1063.1L849.8 1063.2L852.8 1063.4L855.8 1063.5L858.8 1063.6L861.8 1063.7L864.8 1063.9L867.8 1064.0L870.8 1064.0L873.8 1064.1L876.8 1064.2L879.8 1064.3L882.8 1064.4L885.8 1064.4L888.8 1064.5L891.8 1064.6L894.8 1064.6L897.8 1064.7L900.8 1064.8L903.8 1064.8L906.8 1064.9L909.8 1064.9L912.8 1065.0L915.8 1065.0L918.8 1065.1L921.8 1065.1L924.8 1065.2L927.8 1065.2L930.8 1065.3L933.8 1065.3L936.8 1065.4L939.8 1065.4L942.8 1065.4L945.8 1065.5L948.8 1065.5L951.8 1065.6L954.8 1065.6L957.8 1065.7L960.8 1065.7L963.8 1065.8L966.8 1065.8L969.8 1065.9L972.8 1065.9L975.8 1065.9L978.8 1066.0L981.8 1066.0L984.8 1066.1L987.8 1066.1L990.8 1066.2L993.8 1066.2L996.8 1066.2L999.8 1066.3L1002.8 1066.3L1005.8 1066.4L1008.8 1066.4L1011.8 1066.4L1014.8 1066.5L1017.8 1066.5L1020.8 1066.6L1023.8 1066.6L1026.8 1066.6L1029.8 1066.7L1032.8 1066.7L1035.8 1066.8L1038.8 1066.8L1041.8 1066.8L1044.8 1066.9L1047.8 1066.9L1050.8 1066.9L1053.8 1067.0L1056.8 1067.0L1059.8 1067.0L1062.8 1067.1L1065.8 1067.1L1068.8 1067.1L1071.8 1067.2L1074.8 1067.2L1077.8 1067.2L1080.8 1067.3L1083.8 1067.3L1086.8 1067.4L1089.8 1067.4L1092.8 1067.4L1095.8 1067.5L1098.8 1067.5L1101.8 1067.5L1104.8 1067.6L1107.8 1067.6L1110.8 1067.6L1113.8 1067.7L1116.8 1067.7L1119.8 1067.7L1122.8 1067.8L1125.8 1067.8L1128.8 1067.8L1131.8 1067.9L1134.8 1067.9L1137.8 1067.9L1140.8 1068.0L1143.8 1068.0L1146.8 1068.0L1149.8 1068.1L1152.8 1068.1L1155.8 1068.1L1158.8 1068.1L1161.8 1068.1L1164.8 1068.1L1167.8 1068.2L1170.8 1068.2L1173.8 1068.2L1176.8 1068.2L1179.8 1068.2L1182.8 1068.2L1185.8 1068.2L1188.8 1068.2L1191.8 1068.2L1194.8 1068.2L1197.8 1068.2L1200.8 1068.2L1203.8 1068.2L1206.8 1068.2L1209.8 1068.2L1212.8 1068.2L1215.8 1068.2L1218.8 1068.2L1221.8 1068.2L1224.8 1068.2L1227.9 1068.2L1230.9 1068.2L1233.9 1068.2L1236.9 1068.2L1239.9 1068.2L1242.9 1068.2L1245.9 1068.2L1248.9 1068.2L1251.9 1068.1L1254.9 1068.1L1257.9 1068.1L1260.9 1068.1L1263.9 1068.1L1266.9 1068.1L1269.9 1068.1L1272.9 1068.1L1275.9 1068.1L1278.9 1068.1L1281.9 1068.1L1284.9 1068.1L1287.9 1068.0L1290.9 1068.0L1293.9 1068.0L1296.9 1068.0L1299.9 1068.0L1302.9 1068.0L1305.9 1068.0L1308.9 1068.0L1311.9 1067.9L1314.9 1067.9L1317.9 1067.9L1320.9 1067.9L1323.9 1067.8L1326.9 1067.8L1329.9 1067.8L1332.9 1067.8L1335.9 1067.7L1338.9 1067.7L1341.9 1067.7L1344.9 1067.7L1347.9 1067.6L1350.9 1067.6L1353.9 1067.6L1356.9 1067.6L1359.9 1067.5L1362.9 1067.5L1365.9 1067.5L1368.9 1067.5L1371.9 1067.5L1374.9 1067.5L1377.9 1067.5L1380.9 1067.5L1383.9 1067.4L1386.9 1067.4L1389.9 1067.4L1392.9 1067.4L1395.9 1067.4L1398.9 1067.4L1401.9 1067.4L1404.9 1067.4L1407.9 1067.4L1410.9 1067.3L1413.9 1067.3L1416.9 1067.3L1419.9 1067.3L1422.9 1067.3L1425.9 1067.3L1428.9 1067.3L1431.9 1067.3L1434.9 1067.3L1437.9 1067.3L1440.9 1067.3L1443.9 1067.3L1446.9 1067.3L1449.9 1067.3L1452.9 1067.3L1455.9 1067.3L1458.9 1067.3L1461.9 1067.3L1464.9 1067.3L1467.9 1067.3L1470.9 1067.3L1473.9 1067.3L1476.9 1067.3L1479.9 1067.3L1482.9 1067.3L1485.9 1067.3L1488.9 1067.3L1491.9 1067.3L1494.9 1067.3L1497.9 1067.3L1500.9 1067.3L1503.9 1067.3L1506.9 1067.3L1509.9 1067.3L1512.9 1067.3L1515.9 1067.4L1518.9 1067.4L1521.9 1067.4L1524.9 1067.4L1527.9 1067.4L1530.9 1067.4L1533.9 1067.4L1536.9 1067.4L1539.9 1067.4L1542.9 1067.5L1545.9 1067.5L1549.0 1067.5L1552.0 1067.5L1555.0 1067.5L1558.0 1067.5L1561.0 1067.5L1564.0 1067.5L1567.0 1067.6L1570.0 1067.6L1573.0 1067.6L1576.0 1067.6L1579.0 1067.6L1582.0 1067.6L1585.0 1067.6L1588.0 1067.7L1591.0 1067.7L1594.0 1067.7L1597.0 1067.7L1600.0 1067.7L1603.0 1067.7L1606.0 1067.8L1609.0 1067.8L1612.0 1067.8L1615.0 1067.8L1618.0 1067.8L1621.0 1067.8L1624.0 1067.9L1627.0 1067.9L1630.0 1067.9L1633.0 1067.9L1636.0 1067.9L1639.0 1067.9L1642.0 1068.0L1645.0 1068.0L1648.0 1068.0L1651.0 1068.0L1654.0 1068.0L1657.0 1068.1L1660.0 1068.1L1663.0 1068.1L1666.0 1068.1L1669.0 1068.1L1672.0 1068.2L1675.0 1068.2L1678.0 1068.2L1681.0 1068.2L1684.0 1068.3L1687.0 1068.3L1690.0 1068.3L1693.0 1068.3L1696.0 1068.4L1699.0 1068.4L1702.0 1068.4L1705.0 1068.5L1708.0 1068.5L1711.0 1068.5L1714.0 1068.6L1717.0 1068.6L1720.0 1068.7L1723.0 1068.7L1726.0 1068.8L1729.0 1068.8L1732.0 1068.9L1735.0 1068.9L1738.0 1069.0L1741.0 1069.1L1744.0 1069.1L1747.0 1069.2L1750.0 1069.3L1753.0 1069.4L1756.0 1069.5L1759.0 1069.6L1762.0 1069.6L1765.0 1069.7L1768.0 1069.8L1771.0 1069.9L1774.0 1070.0"/>
<path stroke="#000" d="M1101.3 1020.7L1103.9 1022.1L1106.6 1023.5L1109.2 1024.9L1111.9 1026.2L1114.6 1027.6L1117.3 1028.9L1120.0 1030.2L1122.7 1031.4L1125.5 1032.7L1128.2 1033.9L1130.9 1035.1L1133.7 1036.3L1136.5 1037.5L1139.2 1038.6L1142.0 1039.7L1144.8 1040.8L1147.6 1041.8L1150.5 1042.9L1153.3 1043.9L1156.1 1044.9L1159.0 1045.8L1161.8 1046.7L1164.7 1047.6L1167.6 1048.5L1170.4 1049.3L1173.3 1050.1L1176.2 1050.9L1179.2 1051.6L1182.1 1052.3L1185.0 1053.0L1187.9 1053.6L1190.9 1054.2L1193.8 1054.8L1196.8 1055.3L1199.7 1055.8L1202.7 1056.3L1205.7 1056.8L1208.6 1057.3L1211.6 1057.7L1214.6 1058.1L1217.5 1058.5L1220.5 1058.9L1223.5 1059.3L1226.5 1059.6L1229.5 1060.0L1232.4 1060.3L1235.4 1060.6L1238.4 1060.9L1241.4 1061.2L1244.4 1061.5L1247.4 1061.8L1250.4 1062.0L1253.4 1062.3L1256.3 1062.5L1259.3 1062.7L1262.3 1062.9L1265.3 1063.1L1268.3 1063.3L1271.3 1063.5L1274.3 1063.7L1277.3 1063.9L1280.3 1064.0L1283.3 1064.2L1286.3 1064.4L1289.3 1064.5L1292.3 1064.7L1295.3 1064.8L1298.3 1064.9L1301.3 1065.0L1304.3 1065.2L1307.3 1065.3L1310.3 1065.4L1313.3 1065.5L1316.3 1065.6L1319.3 1065.6L1322.3 1065.7L1325.3 1065.8L1328.3 1065.9L1331.3 1065.9L1334.3 1066.0L1337.3 1066.1L1340.3 1066.1L1343.3 1066.2L1346.3 1066.3L1349.3 1066.3L1352.3 1066.4L1355.3 1066.4L1358.3 1066.5L1361.3 1066.5L1364.3 1066.6L1367.3 1066.6L1370.3 1066.7L1373.3 1066.7L1376.3 1066.7L1379.3 1066.8L1382.3 1066.8L1385.3 1066.9L1388.3 1066.9L1391.3 1066.9L1394.3 1066.9L1397.3 1067.0L1400.3 1067.0L1403.3 1067.0L1406.3 1067.0L1409.3 1067.1L1412.3 1067.1L1415.3 1067.1L1418.3 1067.1L1421.3 1067.1L1424.3 1067.2L1427.3 1067.2L1430.3 1067.2L1433.3 1067.2L1436.4 1067.2L1439.4 1067.2L1442.4 1067.3L1445.4 1067.3L1448.4 1067.3L1451.4 1067.3L1454.4 1067.3L1457.4 1067.3L1460.4 1067.3L1463.4 1067.3L1466.4 1067.4L1469.4 1067.4L1472.4 1067.4L1475.4 1067.4L1478.4 1067.4L1481.4 1067.4L1484.4 1067.4L1487.4 1067.4L1490.4 1067.4L1493.4 1067.4L1496.4 1067.4L1499.4 1067.4L1502.4 1067.5L1505.4 1067.5L1508.4 1067.5L1511.4 1067.5L1514.4 1067.5L1517.4 1067.5L1520.4 1067.5L1523.4 1067.5L1526.4 1067.5L1529.4 1067.5L1532.4 1067.5L1535.4 1067.6L1538.4 1067.6L1541.4 1067.6L1544.4 1067.6L1547.4 1067.6L1550.4 1067.6L1553.4 1067.6L1556.4 1067.6L1559.4 1067.6L1562.4 1067.6L1565.4 1067.7L1568.4 1067.7L1571.4 1067.7L1574.4 1067.7L1577.4 1067.7L1580.4 1067.7L1583.4 1067.7L1586.4 1067.7L1589.4 1067.7L1592.4 1067.7L1595.4 1067.8L1598.4 1067.8L1601.4 1067.8L1604.4 1067.8L1607.4 1067.8L1610.4 1067.8L1613.4 1067.8L1616.5 1067.8L1619.5 1067.8L1622.5 1067.9L1625.5 1067.9L1628.5 1067.9L1631.5 1067.9L1634.5 1067.9L1637.5 1067.9L1640.5 1067.9L1643.5 1067.9L1646.5 1067.9L1649.5 1068.0L1652.5 1068.0L1655.5 1068.0L1658.5 1068.0L1661.5 1068.0L1664.5 1068.0L1667.5 1068.0L1670.5 1068.0L1673.5 1068.1L1676.5 1068.1L1679.5 1068.1L1682.5 1068.1L1685.5 1068.1L1688.5 1068.1L1691.5 1068.1L1694.5 1068.2L1697.5 1068.2L1700.5 1068.2L1703.5 1068.2L1706.5 1068.3L1709.5 1068.3L1712.5 1068.3L1715.5 1068.3L1718.5 1068.4L1721.5 1068.4L1724.5 1068.4L1727.5 1068.5L1730.5 1068.5L1733.5 1068.6L1736.5 1068.7L1739.5 1068.7L1742.5 1068.8L1745.5 1068.9L1748.5 1069.0L1751.5 1069.1L1754.5 1069.2L1757.5 1069.3L1760.5 1069.4L1763.5 1069.6L1766.5 1069.7L1769.5 1069.9L1772.5 1070.0L1775.5 1070.2L1777.0 1070.3"/>
</g>
<g stroke-width="10.6" stroke-linecap="butt">
<line x1="1383.5" y1="94.8" x2="1495" y2="94.8" stroke="#000"/>
<line x1="1383.5" y1="234.7" x2="1495" y2="234.7" stroke="#ee4045"/>
<line x1="1383.5" y1="374.8" x2="1495" y2="374.8" stroke="#0600dc"/>
</g>
<g font-family="'Liberation Serif', serif" font-size="88" fill="#000">
<text x="1556.6 1615.2 1669.6 1719.6" y="123.2">BLPs</text>
<text x="1556.9 1617.1 1664.5 1712.6" y="263.2">GSPs</text>
<text x="1557.2 1605.5 1655.1 1701.9" y="403.6">STPs</text>
</g>
<g font-family="'Liberation Serif', serif" font-weight="bold" font-size="80" fill="#000">
<text x="291.3" y="1191" text-anchor="middle">250</text>
<text x="576.0" y="1191" text-anchor="middle">300</text>
<text x="860.6" y="1191" text-anchor="middle">350</text>
<text x="1145.2" y="1191" text-anchor="middle">400</text>
<text x="1429.9" y="1191" text-anchor="middle">450</text>
<text x="1714.5" y="1191" text-anchor="middle">500</text>
<text x="165" y="1102.6" text-anchor="end">0</text>
<text x="165" y="885.1" text-anchor="end">1</text>
<text x="165" y="667.6" text-anchor="end">2</text>
<text x="165" y="450.1" text-anchor="end">3</text>
<text x="165" y="232.6" text-anchor="end">4</text>
</g>
<g font-family="'Liberation Serif', serif" font-weight="bold" font-size="85" fill="#000">
<text x="992.5" y="1311.5" text-anchor="middle">Wavelength (nm)</text>
<text transform="translate(81.5 545.5) rotate(-90)" text-anchor="middle">Absorbance</text>
</g>
</svg>
</div>
</body>
</html>
